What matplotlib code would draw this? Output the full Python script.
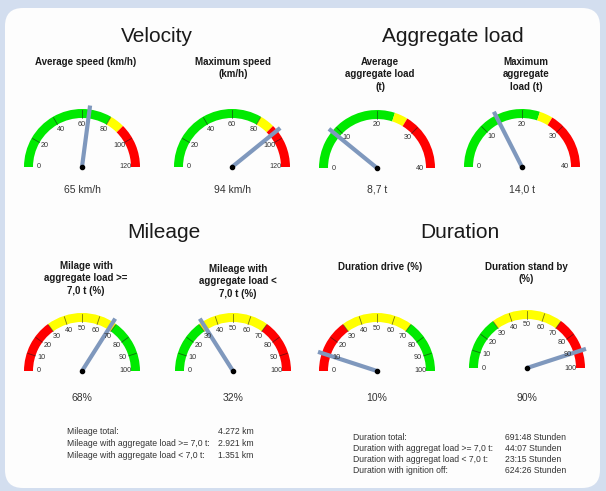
import numpy as np
import matplotlib
matplotlib.use("Agg")
import matplotlib.pyplot as plt
from matplotlib.patches import Wedge, FancyBboxPatch

plt.rcParams['font.family'] = ['Liberation Sans', 'DejaVu Sans']

W, H = 606, 491

# --- data ---
section_titles = ["Velocity", "Aggregate load", "Mileage", "Duration"]
gauge_titles = ["Average speed (km/h)", "Maximum speed\n(km/h)",
                "Average\naggregate load\n(t)", "Maximum\naggregate\nload (t)",
                "Milage with\naggregate load >=\n7,0 t (%)", "Mileage with\naggregate load <\n7,0 t (%)",
                "Duration drive (%)", "Duration stand by\n(%)"]
gauge_max = [120, 120, 40, 40, 100, 100, 100, 100]
tick_step = [20, 20, 10, 10, 10, 10, 10, 10]
gauge_values = [65, 94, 8.7, 14.0, 68, 32, 10, 90]
value_labels = ["65 km/h", "94 km/h", "8,7 t", "14,0 t", "68%", "32%", "10%", "90%"]
G, Y, R = '#00ea00', '#ffff00', '#ff0000'
speed_zones = [(0, 80, G), (80, 90, Y), (90, 120, R)]
load_zones = [(0, 24, G), (24, 27, Y), (27, 40, R)]
low_bad = [(0, 30, R), (30, 70, Y), (70, 100, G)]
high_bad = [(0, 30, G), (30, 70, Y), (70, 100, R)]
gauge_zones = [speed_zones, speed_zones, load_zones, load_zones,
               low_bad, high_bad, low_bad, high_bad]

mileage_names = ["Mileage total:", "Mileage with aggregate load >= 7,0 t:",
                 "Mileage with aggregate load < 7,0 t:"]
mileage_vals = ["4.272 km", "2.921 km", "1.351 km"]
duration_names = ["Duration total:", "Duration with aggregat load >= 7,0 t:",
                  "Duration with aggregat load < 7,0 t:", "Duration with ignition off:"]
duration_vals = ["691:48 Stunden", "44:07 Stunden", "23:15 Stunden", "624:26 Stunden"]

# --- layout (pixels) ---
centers = [(82, 167), (232, 167), (377, 168), (522, 167),
           (82, 371), (233, 371), (377, 371), (527, 368)]
title_pos = [(86, 63), (233, 63), (380, 63), (526, 63),
             (86, 267), (238, 270), (380, 268), (526, 268)]
value_y = [190, 190, 190, 190, 398, 398, 398, 398]
section_pos = [(157, 36), (453, 36), (164, 233), (460, 233)]

fig = plt.figure(figsize=(W / 100, H / 100), dpi=100)
fig.patch.set_facecolor('#d3deef')

bg = fig.add_axes([0, 0, 1, 1])
bg.set_xlim(0, W)
bg.set_ylim(H, 0)
bg.axis('off')
bg.add_patch(FancyBboxPatch((5, 8), 595, 480, boxstyle="round,pad=0,rounding_size=18",
                            fc='#fdfdfd', ec='none'))

for t, (x, y) in zip(section_titles, section_pos):
    bg.text(x, y, t, fontsize=15, ha='center', va='center', color='#1a1a1a')

for t, (x, y) in zip(gauge_titles, title_pos):
    bg.text(x, y - 6, t, fontsize=7, fontweight='bold', ha='center', va='top',
            linespacing=1.3, color='#1a1a1a')

for lab, (cx, cy), vy in zip(value_labels, centers, value_y):
    bg.text(cx, vy, lab, fontsize=7.5, ha='center', va='center', color='#333333')

r_out, r_in = 58, 49


def ang(v, vmax):
    return np.pi - v / vmax * np.pi


for i, (cx, cy) in enumerate(centers):
    ax = fig.add_axes([(cx - 70) / W, (H - cy - 30) / H, 140 / W, 100 / H])
    ax.set_xlim(-70, 70)
    ax.set_ylim(-30, 70)
    ax.axis('off')
    vmax = gauge_max[i]
    for a, b, c in gauge_zones[i]:
        ax.add_patch(Wedge((0, 0), r_out, np.degrees(ang(b, vmax)), np.degrees(ang(a, vmax)),
                           width=r_out - r_in, fc=c, ec='none'))
    ticks = np.arange(0, vmax + 1, tick_step[i])
    for tv in ticks:
        th = ang(tv, vmax)
        if 0 < tv < vmax:
            ax.plot([r_in * np.cos(th), (r_out - 1) * np.cos(th)],
                    [r_in * np.sin(th), (r_out - 1) * np.sin(th)],
                    color='#1a1a1a', lw=0.6, alpha=0.6)
        ax.text(43 * np.cos(th), 43 * np.sin(th), str(int(tv)), fontsize=5.2,
                ha='center', va='center', color='#333333')
    th = ang(gauge_values[i], vmax)
    ax.plot([0, 62 * np.cos(th)], [0, 62 * np.sin(th)], color='#7f98bd', lw=3,
            solid_capstyle='butt')
    ax.plot(0, 0, 'o', color='black', ms=3)

for k, (n, v) in enumerate(zip(mileage_names, mileage_vals)):
    y = 432 + k * 11.7
    bg.text(67, y, n, fontsize=6.2, va='center', color='#333333')
    bg.text(218, y, v, fontsize=6.2, va='center', color='#333333')

for k, (n, v) in enumerate(zip(duration_names, duration_vals)):
    y = 437 + k * 11.2
    bg.text(353, y, n, fontsize=6.2, va='center', color='#333333')
    bg.text(505, y, v, fontsize=6.2, va='center', color='#333333')

fig.savefig("out.png", dpi=100, facecolor=fig.get_facecolor())
